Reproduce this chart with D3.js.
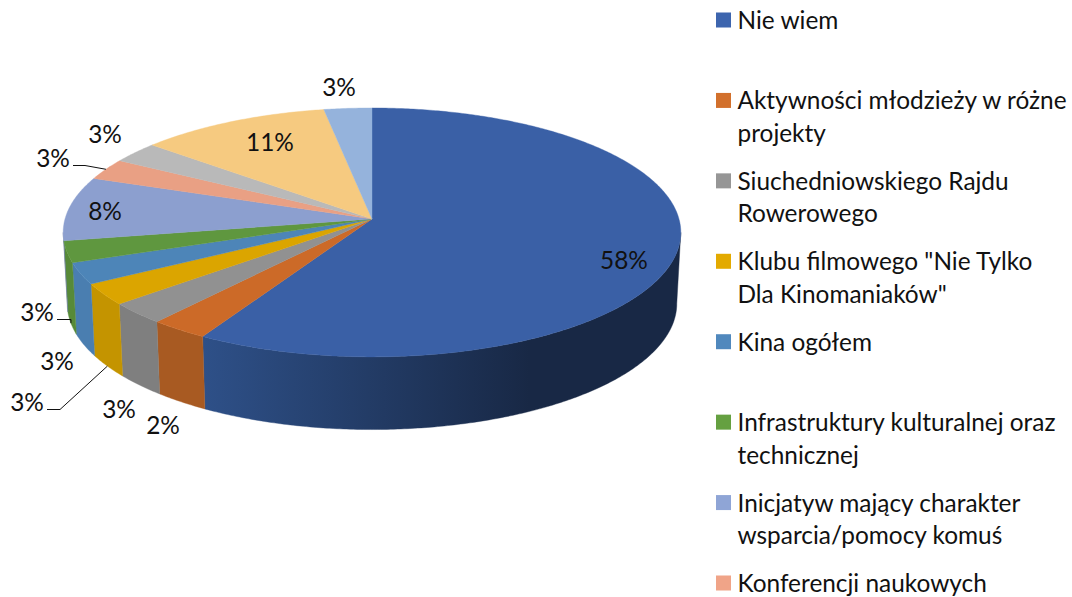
<!DOCTYPE html>
<html><head><meta charset="utf-8">
<script src="https://cdn.jsdelivr.net/npm/d3@7"></script>
<style>html,body{margin:0;padding:0;background:#fff}svg{display:block}text{font-family:Lato,"Open Sans",sans-serif;fill:#111}</style>
</head><body><svg id="c" width="1072" height="597"></svg>
<script>
// slice sizes (respondent counts out of 36)
const sliceValues = [21, 1, 1, 1, 1, 1, 3, 1, 1, 4, 1];
const sliceLabels = ["58%","2%","3%","3%","3%","3%","8%","3%","3%","11%","3%"];
const topColors = ["#3a60a6","#cc6a28","#919191","#dba500","#4d85b8","#5f973f","#8c9fcf","#e9a084","#b9b9b9","#f6ca80","#95b3dc"];
const wallColors = ["url(#wallBlue)","#a85a22","#7f7f7f","#c49400","#4a7eb0","#578a38","#6f7fa6","#ba8069","#949494","#c5a266","#7790b0"];
const legendLines = [["Nie wiem"],["Aktywności młodzieży w różne","projekty"],["Siuchedniowskiego Rajdu","Rowerowego"],["Klubu filmowego \"Nie Tylko","Dla Kinomaniaków\""],["Kina ogółem"],["Infrastruktury kulturalnej oraz","technicznej"],["Inicjatyw mający charakter","wsparcia/pomocy komuś"],["Konferencji naukowych"]];
const legendColors = ["#3d65ae","#d2702c","#969696","#e3aa00","#5088bd","#65a041","#8fa5d6","#f0a488"];

// layout (not data)
const labelPos = [[624,259],[163,424],[119,408],[27,401],[57,360],[37,311],[105,210],[53,157],[105,133],[270,141],[339,86]];
const leaders = {3:[[47,409.5],[60,409.5]],5:[[57,319.5],[71,319.5]],7:[[73,165.5],[85,165.5]]};
const leaderEndOnWall = {3:true,5:true,7:false};

const svg = d3.select("#c");
const cx=372, cy=219, R=307, B=123, k=0.108, depth=71, wallScale=0.987, wallB=1.012;
function proj(a, bottom){
  const u=Math.sin(a), v=-Math.cos(a), s=1/(1-k*v);
  const r=bottom?R*wallScale:R;
  return [cx+r*u*s, cy+(bottom?depth:0)+B*(bottom?wallB:1)*v*s];
}
const line=d3.line();
const arcs=d3.pie().sort(null).value(d=>d)(sliceValues);
const grad=svg.append("defs").append("linearGradient").attr("id","wallBlue").attr("gradientUnits","userSpaceOnUse").attr("x1",204).attr("x2",530).attr("y1",0).attr("y2",0);
grad.append("stop").attr("offset",0).attr("stop-color","#2e5088");
grad.append("stop").attr("offset",1).attr("stop-color","#182845");

const samples=(a0,a1)=>{const n=Math.max(2,Math.ceil((a1-a0)/0.01));return d3.range(n+1).map(i=>a0+(a1-a0)*i/n);};
const visMin=Math.acos(-k), visMax=2*Math.PI-Math.acos(-k);
svg.append("g").selectAll("path").data(arcs).join("path")
 .attr("d",d=>{
   const a0=Math.max(d.startAngle,visMin),a1=Math.min(d.endAngle,visMax);
   if(a1<=a0) return null;
   const a=samples(a0,a1);
   return line(a.map(t=>proj(t,false)).concat(a.slice().reverse().map(t=>proj(t,true))))+"Z";
 })
 .attr("fill",(d,i)=>wallColors[i]).attr("stroke",(d,i)=>wallColors[i]).attr("stroke-width",0.4);
svg.append("g").selectAll("path").data(arcs).join("path")
 .attr("d",d=>line([[cx,cy]].concat(samples(d.startAngle,d.endAngle).map(t=>proj(t,false))))+"Z")
 .attr("fill",(d,i)=>topColors[i]).attr("stroke",(d,i)=>topColors[i]).attr("stroke-width",0.4);
Object.keys(leaders).forEach(i=>{
  const d=arcs[i], m=(d.startAngle+d.endAngle)/2;
  const e=proj(m,leaderEndOnWall[i]);
  svg.append("path").attr("d",line(leaders[i].concat([e]))).attr("fill","none").attr("stroke","#111").attr("stroke-width",1);
});
svg.append("g").selectAll("text").data(sliceLabels).join("text")
 .attr("x",(d,i)=>labelPos[i][0]).attr("y",(d,i)=>labelPos[i][1]).attr("text-anchor","middle").attr("dominant-baseline","central")
 .attr("font-size",24.4).text(d=>d);
const ly=d3.scalePoint().domain(d3.range(legendLines.length)).range([20,583]);
const lg=svg.append("g").selectAll("g").data(legendLines).join("g").attr("transform",(d,i)=>`translate(716,${ly(i)})`);
lg.append("rect").attr("x",0).attr("y",-7.5).attr("width",15).attr("height",15).attr("fill",(d,i)=>legendColors[i]);
lg.selectAll("text").data(d=>d).join("text").attr("x",21.5).attr("y",(d,i)=>i*32.5-0.5).attr("dominant-baseline","central").attr("font-size",24.4).text(d=>d);
</script></body></html>
